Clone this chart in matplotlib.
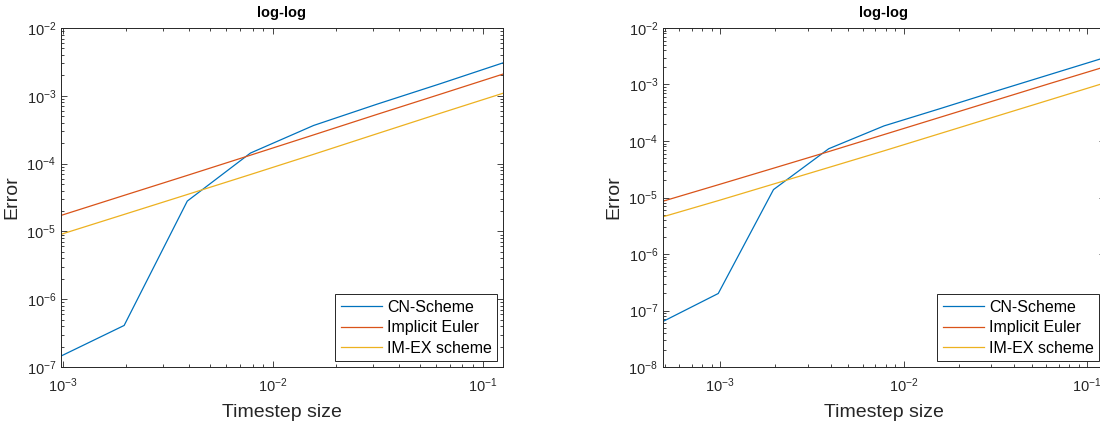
import matplotlib
matplotlib.use("Agg")
import matplotlib.pyplot as plt
from matplotlib.ticker import NullFormatter
import numpy as np

plt.rcParams['font.family'] = ['Liberation Sans', 'DejaVu Sans']
plt.rcParams['mathtext.default'] = 'regular'

# timestep sizes (2^-10 .. 2^-3 left, 2^-11 .. 2^-3 right)
dt_left = [2**-10, 2**-9, 2**-8, 2**-7, 2**-6, 2**-5, 2**-4, 2**-3]
dt_right = [2**-11, 2**-10, 2**-9, 2**-8, 2**-7, 2**-6, 2**-5, 2**-4, 2**-3]

# errors
cn_left = [1.45e-7, 4.1e-7, 2.8e-5, 1.43e-4, 3.65e-4, 7.5e-4, 1.5e-3, 3.06e-3]
ie_left = [1.72e-5, 3.4e-5, 6.7e-5, 1.33e-4, 2.65e-4, 5.3e-4, 1.05e-3, 2.09e-3]
imex_left = [9.06e-6, 1.78e-5, 3.5e-5, 6.9e-5, 1.37e-4, 2.75e-4, 5.5e-4, 1.09e-3]

# errors
cn_right = [6.4e-8, 2.0e-7, 1.38e-5, 7.3e-5, 1.85e-4, 3.7e-4, 7.5e-4, 1.5e-3, 3.0e-3]
ie_right = [8.6e-6, 1.68e-5, 3.3e-5, 6.5e-5, 1.3e-4, 2.6e-4, 5.2e-4, 1.04e-3, 2.06e-3]
imex_right = [4.56e-6, 8.8e-6, 1.73e-5, 3.4e-5, 6.7e-5, 1.34e-4, 2.68e-4, 5.35e-4, 1.07e-3]

labels = ["CN-Scheme", "Implicit Euler", "IM-EX scheme"]
colors = ["#0072BD", "#D95319", "#EDB120"]

fig = plt.figure(figsize=(11, 4.23), dpi=100)
ax1 = fig.add_axes([61/1100, 1-367/423, 442/1100, 339/423])
ax2 = fig.add_axes([663/1100, 1-367/423, 442/1100, 339/423])

def style(ax, xlim, ylim):
    ax.set_xscale("log")
    ax.set_yscale("log")
    ax.set_xlim(*xlim)
    ax.set_ylim(*ylim)
    ax.xaxis.set_minor_formatter(NullFormatter())
    ax.yaxis.set_minor_formatter(NullFormatter())
    ax.set_title("log-log", fontsize=10.5, fontweight="bold", pad=8)
    ax.set_xlabel("Timestep size", fontsize=14, color="#262626", labelpad=6)
    ax.set_ylabel("Error", fontsize=14, color="#262626", labelpad=4)
    ax.tick_params(which="both", direction="in", top=True, right=True,
                   colors="#262626", labelsize=10.5, width=0.6)
    ax.tick_params(axis="x", which="major", pad=7)
    ax.tick_params(which="major", length=4)
    ax.tick_params(which="minor", length=2.5)
    for s in ax.spines.values():
        s.set_color("#262626")
        s.set_linewidth(0.7)
    leg = ax.legend(loc="lower right", fontsize=11.5, fancybox=False,
                    edgecolor="#262626", framealpha=1, borderaxespad=0.35,
                    handlelength=2.6, handletextpad=0.3, labelspacing=0.35,
                    borderpad=0.35)
    leg.get_frame().set_linewidth(0.7)

for vals, lab, c in zip([cn_left, ie_left, imex_left], labels, colors):
    ax1.plot(dt_left, vals, color=c, lw=0.9, label=lab)
for vals, lab, c in zip([cn_right, ie_right, imex_right], labels, colors):
    ax2.plot(dt_right, vals, color=c, lw=0.9, label=lab)

style(ax1, (2**-10, 2**-3), (1e-7, 1e-2))
style(ax2, (2**-11, 2**-3), (1e-8, 1e-2))

fig.savefig("out.png", dpi=100)
